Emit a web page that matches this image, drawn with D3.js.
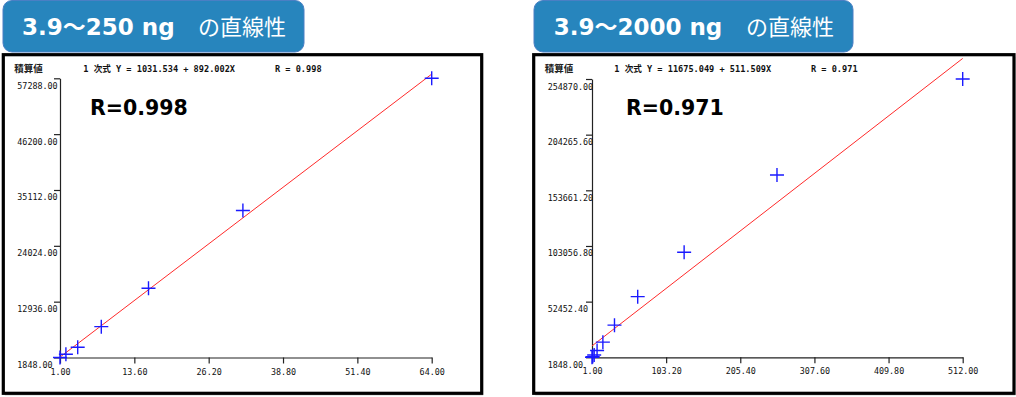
<!DOCTYPE html>
<html>
<head>
<meta charset="utf-8">
<script src="https://cdn.jsdelivr.net/npm/d3@7"></script>
<style>
  body { margin: 0; background: #fff; }
  svg { display: block; }
</style>
</head>
<body>
<div id="chart"></div>
<script>
// amounts (relative to 3.9 ng) and integrated peak values
const concLow = [1, 2, 4, 8, 16, 32, 64];
const areaLow = [1848, 2480, 3880, 7970, 15600, 31050, 57288];
const concAll = [1, 2, 4, 8, 16, 32, 64, 128, 256, 512];
const areaAll = [1848, 2480, 3880, 7970, 15600, 31100, 57000, 97300, 167600, 254870];

const yTicksLow = [1848, 12936, 24024, 35112, 46200, 57288];
const xTicksLow = [1, 13.6, 26.2, 38.8, 51.4, 64];
const yTicksAll = [1848, 52452.4, 103056.8, 153661.2, 204265.6, 254870];
const xTicksAll = [1, 103.2, 205.4, 307.6, 409.8, 512];

const fitLow = { a: 1031.534, b: 892.002, r: 0.998 };
const fitAll = { a: 11675.049, b: 511.509, r: 0.971 };

const titles = [['3.9', '～', '250 ng'], ['3.9', '～', '2000 ng']];

const width = 1016;
const height = 397;

const svg = d3.select('#chart')
  .append('svg')
  .attr('width', width)
  .attr('height', height);

const mono = '"DejaVu Sans Mono", "Noto Sans CJK JP", monospace';
const cjk = '"Noto Sans CJK JP", sans-serif';
const sans = '"DejaVu Sans", Verdana, sans-serif';

function drawPanel(p) {
  const g = svg.append('g');

  // title box
  g.append('rect')
    .attr('x', p.box[0]).attr('y', 0.5)
    .attr('width', p.box[1] - p.box[0]).attr('height', 51.5)
    .attr('rx', 9)
    .attr('fill', '#2785bd')
    .attr('stroke', '#4a7fc4')
    .attr('stroke-width', 1);

  const t = g.append('text')
    .attr('x', p.titleX).attr('y', 35)
    .attr('font-family', sans)
    .attr('font-weight', 'bold')
    .attr('font-size', 23)
    .attr('fill', '#fff');
  t.append('tspan').text(p.title[0]);
  t.append('tspan').attr('font-family', cjk).text(p.title[1]);
  t.append('tspan').text(p.title[2]);

  g.append('text')
    .attr('x', p.jpX).attr('y', 35)
    .attr('font-family', cjk)
    .attr('font-size', 22)
    .attr('fill', '#fff')
    .text('の直線性');

  // frame
  g.append('rect')
    .attr('x', p.frame[0] + 1.5).attr('y', 57)
    .attr('width', p.frame[1] - p.frame[0]).attr('height', 338.6)
    .attr('fill', '#d8d8d8');
  g.append('rect')
    .attr('x', p.frame[0]).attr('y', 54.7)
    .attr('width', p.frame[1] - p.frame[0]).attr('height', 338.6)
    .attr('fill', '#fff')
    .attr('stroke', '#000')
    .attr('stroke-width', 3.2);

  const x = d3.scaleLinear().domain([p.xTicks[0], p.xTicks[p.xTicks.length - 1]]).range(p.xr);
  const y = d3.scaleLinear().domain([p.yTicks[0], p.yTicks[p.yTicks.length - 1]]).range(p.yr);

  // header line
  const hy = 71.5;
  g.append('text')
    .attr('x', p.frame[0] + 11).attr('y', hy)
    .attr('font-family', cjk).attr('font-weight', 'bold')
    .attr('font-size', 9.5).attr('fill', '#222')
    .text('積算値');
  g.append('text')
    .attr('x', p.eqX).attr('y', hy)
    .attr('font-family', mono).attr('font-size', 8.6).attr('fill', '#111')
    .attr('font-weight', 'bold')
    .text(`1 次式 Y = ${p.fit.a.toFixed(3)} + ${p.fit.b.toFixed(3)}X`);
  g.append('text')
    .attr('x', p.rX).attr('y', hy)
    .attr('font-family', mono).attr('font-size', 8.6).attr('fill', '#111')
    .attr('font-weight', 'bold')
    .text(`R = ${p.fit.r.toFixed(3)}`);

  // axes
  const yAxis = d3.axisLeft(y)
    .tickValues(p.yTicks)
    .tickFormat(d3.format('.2f'))
    .tickSize(6)
    .tickSizeOuter(0);
  const xAxis = d3.axisBottom(x)
    .tickValues(p.xTicks)
    .tickFormat(d3.format('.2f'))
    .tickSize(6)
    .tickSizeOuter(0);

  const ya = g.append('g')
    .attr('transform', `translate(${p.xr[0]},0)`)
    .call(yAxis);
  ya.selectAll('text')
    .attr('x', p.frame[0] + 14 - p.xr[0])
    .attr('dy', 10)
    .attr('text-anchor', 'start');

  const xa = g.append('g')
    .attr('transform', `translate(0,${p.yr[0]})`)
    .call(xAxis);
  xa.selectAll('text')
    .attr('y', 17)
    .attr('dy', 0);

  g.selectAll('.domain, .tick line')
    .attr('stroke', '#222')
    .attr('stroke-width', 1.2);
  g.selectAll('.tick text')
    .attr('font-family', mono)
    .attr('font-size', 8.4)
    .attr('fill', '#111');

  // regression line
  const xs = [p.xTicks[0], p.xTicks[p.xTicks.length - 1]];
  g.append('line')
    .attr('x1', x(xs[0])).attr('y1', y(p.fit.a + p.fit.b * xs[0]))
    .attr('x2', x(xs[1])).attr('y2', y(p.fit.a + p.fit.b * xs[1]))
    .attr('stroke', '#ff2a2a')
    .attr('stroke-width', 1);

  // points
  g.append('g')
    .selectAll('path')
    .data(p.conc.map((c, i) => [c, p.area[i]]))
    .join('path')
    .attr('transform', (d) => `translate(${x(d[0])},${y(d[1])})`)
    .attr('d', 'M-7,0H7M0,-7V7')
    .attr('stroke', '#1a1aff')
    .attr('stroke-width', 1.4)
    .attr('fill', 'none');

  // R label
  g.append('text')
    .attr('x', p.bigRX).attr('y', 114.5)
    .attr('font-family', sans)
    .attr('font-weight', 'bold')
    .attr('font-size', 20.5)
    .attr('fill', '#000')
    .text(`R=${p.fit.r.toFixed(3)}`);
}

drawPanel({
  title: titles[0], box: [3, 304], titleX: 22, jpX: 198,
  frame: [3.3, 481.7],
  xr: [60, 431.7], yr: [357.5, 78.3],
  xTicks: xTicksLow, yTicks: yTicksLow,
  conc: concLow, area: areaLow, fit: fitLow,
  eqX: 83.3, rX: 275, bigRX: 90,
});

drawPanel({
  title: titles[1], box: [534, 853], titleX: 553.7, jpX: 746,
  frame: [533.7, 1014],
  xr: [592, 962.7], yr: [357.3, 79],
  xTicks: xTicksAll, yTicks: yTicksAll,
  conc: concAll, area: areaAll, fit: fitAll,
  eqX: 614.3, rX: 811, bigRX: 626,
});
</script>
</body>
</html>
